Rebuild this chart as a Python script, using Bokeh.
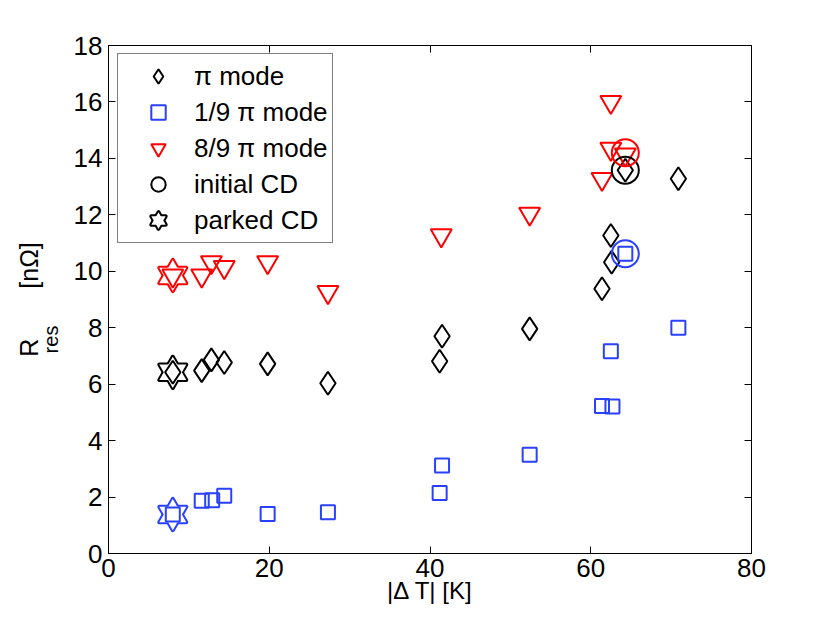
from bokeh.plotting import figure
from bokeh.models import (LinearAxis, FixedTicker, Legend, LegendItem,
                          Range1d, ColumnDataSource, CustomJSTickFormatter)
from bokeh.embed import file_html
from bokeh.resources import INLINE

# ---------------- data ----------------
pi_dT = [8.0, 11.6, 12.8, 14.4, 19.8, 27.3, 41.2, 41.5, 52.4, 61.4, 62.5, 62.6, 64.3, 70.9]
pi_R = [6.42, 6.48, 6.86, 6.77, 6.72, 6.03, 6.81, 7.70, 7.96, 9.38, 11.27, 10.32, 13.58, 13.28]

ninth_dT = [8.0, 11.6, 12.9, 14.4, 19.8, 27.3, 41.2, 41.5, 52.4, 61.4, 62.7, 62.5, 64.3, 70.9]
ninth_R = [1.38, 1.87, 1.89, 2.05, 1.40, 1.46, 2.14, 3.12, 3.50, 5.23, 5.21, 7.17, 10.62, 8.00]

eighth_dT = [8.0, 11.6, 12.8, 14.4, 19.8, 27.3, 41.4, 52.4, 61.4, 62.5, 62.5, 64.3]
eighth_R = [9.85, 9.85, 10.32, 10.15, 10.32, 9.26, 11.27, 12.04, 13.27, 14.34, 16.00, 14.14]

# initial CD and parked CD: order = pi mode, 1/9 pi mode, 8/9 pi mode
initial_dT = [64.3, 64.3, 64.3]
initial_R = [13.58, 10.62, 14.20]
parked_dT = [8.0, 8.0, 8.0]
parked_R = [6.42, 1.38, 9.85]

labels = ["\u03c0 mode", "1/9 \u03c0 mode", "8/9 \u03c0 mode", "initial CD", "parked CD"]
x_label = "|\u0394 T| [K]"
y_label_main = "R\u2003\u2003[n\u03a9]"
y_label_sub = "res\u2003\u2003\u2003\u2003"
x_ticks = [0, 20, 40, 60, 80]
y_ticks = [0, 2, 4, 6, 8, 10, 12, 14, 16, 18]

# ---------------- style ----------------
FONT = "Liberation Sans"
BLACK = "#000000"
BLUE = "#2a40ff"
RED = "#ff0000"
mode_colors = [BLACK, BLUE, RED]

p = figure(width=814, height=607, x_range=Range1d(0, 80), y_range=Range1d(0, 18),
           output_backend="svg", toolbar_location=None,
           min_border_left=108, min_border_right=63, min_border_top=45, min_border_bottom=54)
p.grid.visible = False
p.outline_line_color = BLACK
p.background_fill_color = "white"
p.border_fill_color = "white"

def style_axis(ax, ticks, show_labels=True, standoff=6):
    ax.ticker = FixedTicker(ticks=ticks)
    ax.major_tick_in = 7
    ax.major_tick_out = 0
    ax.minor_tick_in = 0
    ax.minor_tick_out = 0
    ax.minor_tick_line_color = None
    ax.axis_line_color = BLACK
    ax.major_tick_line_color = BLACK
    ax.axis_line_width = 1
    ax.major_label_standoff = standoff
    if show_labels:
        ax.major_label_text_font = FONT
        ax.major_label_text_font_size = "26px"
        ax.major_label_text_color = BLACK
    else:
        ax.formatter = CustomJSTickFormatter(code="return ''")
        ax.major_label_text_font_size = "1px"

def style_label(ax, text, size, standoff):
    ax.axis_label = text
    ax.axis_label_text_font = FONT
    ax.axis_label_text_font_size = size
    ax.axis_label_text_font_style = "normal"
    ax.axis_label_text_color = BLACK
    ax.axis_label_standoff = standoff

style_axis(p.xaxis[0], x_ticks, True, 5)
style_axis(p.yaxis[0], y_ticks, True, 6)
style_label(p.xaxis[0], x_label, "24px", -3)
# inner left axis carries the subscript, outer (bare) left axis carries "R ... [nΩ]"
style_label(p.yaxis[0], y_label_sub, "20px", 9)

outer_ax = LinearAxis()
style_axis(outer_ax, [], False, 0)
outer_ax.axis_line_color = None
outer_ax.major_tick_line_color = None
outer_ax.major_tick_in = 0
style_label(outer_ax, y_label_main, "25px", -6)
p.add_layout(outer_ax, "left")

top_ax = LinearAxis()
style_axis(top_ax, x_ticks, False, 0)
p.add_layout(top_ax, "above")
right_ax = LinearAxis()
style_axis(right_ax, y_ticks, False, 0)
p.add_layout(right_ax, "right")

# parked CD hexagrams (outline, then white fill to hide inner lines)
star_renderers = []
for i in range(3):
    src = ColumnDataSource(dict(x=[parked_dT[i]], y=[parked_R[i]]))
    rs = []
    for mk in ("triangle", "inverted_triangle"):
        rs.append(p.scatter("x", "y", source=src, marker=mk, size=27, fill_color=None,
                            line_color=mode_colors[i], line_width=4, line_join="round"))
    for mk in ("triangle", "inverted_triangle"):
        rs.append(p.scatter("x", "y", source=src, marker=mk, size=27, fill_color="white",
                            line_color=None))
    star_renderers.append(rs)

r_pi = p.scatter(pi_dT, pi_R, marker="diamond", size=23, fill_color=None,
                 line_color=BLACK, line_width=2)
r_ninth = p.scatter(ninth_dT, ninth_R, marker="square", size=14, fill_color=None,
                    line_color=BLUE, line_width=2)
r_eighth = p.scatter(eighth_dT, eighth_R, marker="inverted_triangle", size=21, fill_color=None,
                     line_color=RED, line_width=2)

circle_renderers = []
for i in range(3):
    circle_renderers.append(p.scatter([initial_dT[i]], [initial_R[i]], marker="circle", size=27,
                                      fill_color=None, line_color=mode_colors[i], line_width=2))

legend = Legend(items=[
    LegendItem(label=labels[0], renderers=[r_pi]),
    LegendItem(label=labels[1], renderers=[r_ninth]),
    LegendItem(label=labels[2], renderers=[r_eighth]),
    LegendItem(label=labels[3], renderers=[circle_renderers[0]]),
    LegendItem(label=labels[4], renderers=star_renderers[0]),
], location=(9, 310), margin=0, padding=4, spacing=0,
    glyph_width=72, glyph_height=36, label_height=36, label_standoff=0,
    label_text_font=FONT, label_text_font_size="26px", label_text_color=BLACK,
    border_line_color=BLACK, border_line_width=1, background_fill_color="white",
    background_fill_alpha=1.0)
p.add_layout(legend, "center")

open("out.html", "w").write(file_html(p, INLINE))
